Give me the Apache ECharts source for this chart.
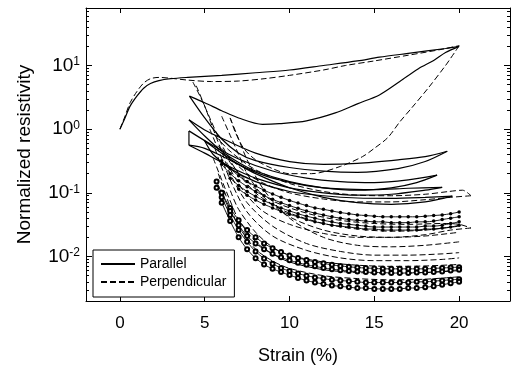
<!DOCTYPE html>
<html><head><meta charset="utf-8">
<script src="https://cdn.jsdelivr.net/npm/echarts@6/dist/echarts.min.js"></script>
<style>html,body{margin:0;padding:0;background:#fff}#c{width:513px;height:370px}</style>
</head><body><div id="c"></div><script>
// ---- tick labels ----
const xTicks = [0, 5, 10, 15, 20];
const yMajorTicks = [0.01, 0.1, 1, 10];
const yMinorTicks = [0.003,0.004,0.005,0.006,0.007,0.008,0.009,
  0.02,0.03,0.04,0.05,0.06,0.07,0.08,0.09,
  0.2,0.3,0.4,0.5,0.6,0.7,0.8,0.9,
  2,3,4,5,6,7,8,9,20,30,40,50,60,70];

// ---- parallel (solid) curves: [strain %, normalized resistivity] ----
const parLoad1 = [[0,1],[0.3,1.5],[0.6,2.3],[1,3.3],[1.4,4.4],[1.8,5.2],[2.3,5.8],[3,6.2],[4,6.5],[6,7.0],[8,7.7],[10,8.5],[12,10],[14,11.8],[15.3,13.5],[17,15.5],[19.2,18.5],[20,20]];
const parUnload1 = [[20,20],[19.2,16],[18.5,12],[17.6,8.9],[16.5,5.6],[15.3,3.45],[14,2.5],[12.7,1.8],[11,1.35],[9.4,1.22],[8.4,1.19],[7,1.5],[6,1.95],[5,2.6],[4.1,3.3]];
const parA_lo = [[4.1,3.3],[5,1.5],[6,0.7],[7,0.42],[8,0.32],[10,0.25],[12,0.22],[14,0.21],[16.4,0.24],[18,0.31],[19.3,0.45]];
const parA_up = [[19.3,0.45],[18,0.37],[16.4,0.33],[14,0.29],[12,0.28],[10,0.31],[8,0.42],[6,0.72],[5,0.97],[4.07,1.4]];
const parB_lo = [[4.07,1.4],[5,0.78],[6,0.45],[7,0.3],[8,0.22],[10,0.15],[12,0.12],[14,0.11],[16,0.12],[17.5,0.145],[18.7,0.19]];
const parB_up = [[18.7,0.19],[17,0.16],[15,0.145],[13,0.15],[11,0.17],[9,0.22],[7,0.34],[5.5,0.55],[4.07,0.94]];
const parC_edge = [[4.07,0.94],[4.07,0.56]];
const parC_lo = [[4.07,0.56],[5,0.42],[6,0.3],[7,0.22],[8,0.17],[10,0.12],[12,0.1],[14,0.092],[16,0.095],[18,0.11],[19,0.122]];
const parC_up = [[19,0.122],[17,0.118],[15,0.112],[13,0.115],[11,0.13],[9,0.17],[7.5,0.24],[6,0.38],[5,0.5],[4.07,0.56]];
const parD_lo = [[5,0.65],[6,0.42],[7,0.28],[8,0.2],[10,0.12],[12,0.085],[14,0.07],[16,0.066],[18,0.072],[19.6,0.089]];
const parD_up = [[19.6,0.089],[18,0.085],[16,0.082],[14,0.083],[12,0.09],[10,0.105],[8,0.15],[6.5,0.24],[5.5,0.4],[5,0.65]];

// ---- perpendicular (dashed) curves ----
const perLoad1 = [[0,1],[0.3,1.6],[0.6,2.6],[1,3.9],[1.4,5.3],[1.8,6.2],[2.3,6.5],[3,6.3],[4,5.9],[5.4,5.6],[7,5.7],[8.5,6.2],[10,7.0],[12,8.5],[13.3,10],[15,11.8],[17,14.5],[19,18],[20,20.5]];
const perUnload1 = [[20,20.5],[19.8,17],[19.5,13],[19.2,10],[18.2,4.5],[17.2,2.15],[16.5,1.3],[15.8,0.74],[15,0.5],[14.3,0.37],[13,0.26],[11.3,0.2],[10,0.2],[9,0.24],[8,0.33],[7.3,0.5],[6.8,0.9],[6.5,1.5]];
const perHi_up = [[5.6,0.8],[6.5,0.45],[8,0.23],[10,0.14],[12,0.105],[14,0.092],[16,0.09],[18,0.095],[19.4,0.105],[20.2,0.11],[20.7,0.09]];
const perHi_lo = [[20.7,0.09],[19.5,0.085],[18,0.078],[16,0.072],[14,0.072],[12,0.08],[10,0.1],[8.5,0.14],[7.5,0.2],[6.5,0.35],[6,0.5]];
const perLo_up = [[5.8,0.55],[6.5,0.3],[7.5,0.15],[9,0.075],[11,0.048],[13,0.037],[15,0.033],[17,0.032],[19,0.033],[20,0.032],[20.7,0.028]];
const perLo_lo = [[20.7,0.028],[19.5,0.026],[18,0.022],[16,0.02],[14,0.02],[12,0.023],[10,0.032],[8.5,0.05],[7.5,0.09],[6.8,0.17],[6.3,0.3]];
const perSteep1 = [[4.3,5.5],[4.8,3.0],[5.3,1.5],[5.8,0.75],[6.3,0.4],[7,0.2],[8,0.1],[9,0.065],[10,0.048],[12,0.033],[14,0.027],[16,0.025],[18,0.026],[20,0.03]];
const perMid1 = [[6.0,1.6],[6.5,0.8],[7,0.4],[7.5,0.2],[8.5,0.085],[10,0.042],[12,0.026],[14,0.021],[16,0.02],[18,0.021],[20,0.024]];
const perMid2 = [[6.5,1.5],[7,0.7],[7.5,0.33],[8.5,0.11],[10,0.04],[12,0.02],[14,0.015],[16,0.0142],[18,0.015],[20,0.017]];
const perMid3 = [[4.5,4.8],[5,2.3],[5.5,1.0],[6,0.45],[6.5,0.2],[7.5,0.07],[9,0.03],[11,0.016],[13,0.012],[15,0.0105],[17,0.0105],[19,0.011],[20,0.0115]];
const perMid4 = [[5.3,1.0],[6,0.35],[6.5,0.16],[7.5,0.05],[9,0.021],[11,0.0125],[13,0.0095],[15,0.0086],[17,0.0086],[19,0.009],[20,0.0095]];
const perLow1 = [[5.6,0.5],[6,0.25],[6.5,0.11],[7,0.055],[8,0.024],[9,0.014],[10,0.0105],[12,0.0082],[14,0.0073],[16,0.007],[18,0.0071],[20,0.0075]];
const perLow2 = [[5.5,0.35],[6,0.16],[6.5,0.075],[7,0.038],[8,0.017],[9,0.011],[10,0.0082],[12,0.0062],[14,0.0056],[16,0.0054],[18,0.0056],[20,0.006]];
const perLow3 = [[5.8,0.2],[6.5,0.06],[7,0.03],[8,0.013],[9,0.0085],[10,0.0065],[12,0.005],[14,0.0045],[16,0.0043],[18,0.0044],[20,0.0048]];

// ---- curves with filled markers ----
const filledX = [6,6.5,7,7.5,8,8.5,9,9.5,10,10.5,11,11.5,12,12.5,13,13.5,14,14.5,15,15.5,16,16.5,17,17.5,18,18.5,19,19.5,20];
const filled1 = [0.32,0.24,0.185,0.15,0.128,0.11,0.096,0.085,0.076,0.069,0.063,0.058,0.055,0.052,0.049,0.047,0.045,0.044,0.043,0.042,0.042,0.042,0.042,0.042,0.043,0.044,0.045,0.047,0.05];
const filled2 = [0.28,0.2,0.155,0.125,0.105,0.09,0.079,0.07,0.063,0.057,0.052,0.048,0.045,0.042,0.04,0.038,0.037,0.036,0.035,0.035,0.034,0.034,0.034,0.035,0.035,0.036,0.038,0.04,0.042];
const filled3 = [null,0.17,0.13,0.105,0.088,0.075,0.066,0.058,0.052,0.047,0.043,0.04,0.037,0.035,0.033,0.032,0.031,0.03,0.029,0.029,0.029,0.029,0.029,0.029,0.03,0.03,0.031,0.033,0.035];
const filled4 = [null,null,0.115,0.092,0.077,0.066,0.058,0.051,0.046,0.042,0.038,0.035,0.033,0.031,0.03,0.029,0.028,0.027,0.027,0.026,0.026,0.026,0.026,0.026,0.027,0.027,0.028,0.029,0.031];

// ---- curves with open markers ----
const openX = [5.7,6,6.5,7,7.5,8,8.5,9,9.5,10,10.5,11,11.5,12,12.5,13,13.5,14,14.5,15,15.5,16,16.5,17,17.5,18,18.5,19,19.5,20];
const open1 = [0.15,0.1,0.058,0.037,0.026,0.02,0.016,0.0135,0.0118,0.0104,0.0095,0.0088,0.0082,0.0078,0.0074,0.0071,0.0069,0.0067,0.0066,0.0065,0.0064,0.0064,0.0064,0.0064,0.0064,0.0064,0.0065,0.0066,0.0067,0.0068];
const open2 = [null,0.1,0.052,0.031,0.021,0.016,0.013,0.011,0.0097,0.0087,0.008,0.0074,0.007,0.0066,0.0063,0.0061,0.0059,0.0058,0.0057,0.0056,0.0056,0.0055,0.0055,0.0055,0.0056,0.0056,0.0057,0.0058,0.006,0.0062];
const open3 = [0.12,0.085,0.045,0.026,0.017,0.012,0.0093,0.0077,0.0066,0.0059,0.0054,0.005,0.0047,0.0045,0.0043,0.0042,0.0041,0.004,0.0039,0.0039,0.0039,0.0039,0.0039,0.0039,0.004,0.004,0.0041,0.0042,0.0043,0.0044];
const open4 = [null,0.07,0.036,0.02,0.013,0.0094,0.0075,0.0064,0.0057,0.0051,0.0046,0.0042,0.0039,0.0037,0.0035,0.0034,0.0033,0.0032,0.0032,0.0031,0.0031,0.0031,0.0031,0.0032,0.0032,0.0033,0.0034,0.0036,0.0038,0.004];

const FONT = 'Liberation Sans, Arial, sans-serif';
const solidLine = {color:'#000', width:1.2, type:'solid'};
const dashLine = {color:'#000', width:1, type:[6,3]};

function pairs(xs, ys){ const out=[]; xs.forEach((x,i)=>{ if(ys[i]!=null) out.push([x, ys[i]]); }); return out; }
function curve(name, data, style, smooth){
  return {type:'line', name, data, smooth: smooth===undefined?0.3:smooth, showSymbol:false, symbol:'none',
    lineStyle: style, itemStyle:{color:'#000'}, z:2};
}
function marked(name, data, sym, size, bw){
  return {type:'line', name, data, smooth:0.3, symbol:sym, symbolSize:size, showSymbol:true,
    lineStyle:{color:'#000', width:0.9}, itemStyle:{color:'#000', borderColor:'#000', borderWidth:bw}, z:3};
}

const series = [
  curve('Parallel', parLoad1, solidLine),
  curve('Perpendicular', perLoad1, dashLine),
  curve('Parallel', parUnload1, solidLine),
  curve('Parallel', parA_lo, solidLine),
  curve('Parallel', parA_up, solidLine),
  curve('Parallel', parB_lo, solidLine),
  curve('Parallel', parB_up, solidLine),
  curve('Parallel', parC_edge, solidLine, false),
  curve('Parallel', parC_lo, solidLine),
  curve('Parallel', parC_up, solidLine),
  curve('Parallel', parD_lo, solidLine),
  curve('Parallel', parD_up, solidLine),
  curve('Perpendicular', perUnload1, dashLine),
  curve('Perpendicular', perHi_up, dashLine),
  curve('Perpendicular', perHi_lo, dashLine),
  curve('Perpendicular', perLo_up, dashLine),
  curve('Perpendicular', perLo_lo, dashLine),
  curve('Perpendicular', perSteep1, dashLine),
  curve('Perpendicular', perMid1, dashLine),
  curve('Perpendicular', perMid2, dashLine),
  curve('Perpendicular', perMid3, dashLine),
  curve('Perpendicular', perMid4, dashLine),
  curve('Perpendicular', perLow1, dashLine),
  curve('Perpendicular', perLow2, dashLine),
  curve('Perpendicular', perLow3, dashLine),
  marked('fitA1', pairs(filledX, filled1), 'circle', 3.5, 0),
  marked('fitA2', pairs(filledX, filled2), 'circle', 3.5, 0),
  marked('fitA3', pairs(filledX, filled3), 'circle', 3.5, 0),
  marked('fitA4', pairs(filledX, filled4), 'circle', 3.5, 0),
  marked('fitB1', pairs(openX, open1), 'emptyCircle', 4, 0.8),
  marked('fitB2', pairs(openX, open2), 'emptyCircle', 4, 0.8),
  marked('fitB3', pairs(openX, open3), 'emptyCircle', 4, 0.8),
  marked('fitB4', pairs(openX, open4), 'emptyCircle', 4, 0.8)
];

const yMin = 0.002, yMax = 80;
function yAx(pos, showLabel, ticks, len, showLine){
  return {
    type:'log', logBase:10, min:yMin, max:yMax, position:pos,
    axisLine:{show:showLine, onZero:false, lineStyle:{color:'#000', width:1}},
    axisTick:{show:true, inside:true, length:len, customValues:ticks, lineStyle:{color:'#000', width:1}},
    axisLabel:{show:showLabel, customValues:ticks, margin:6, fontFamily:FONT, color:'#000',
      formatter: v => '{b|10}{s|' + Math.round(Math.log10(v)) + '}',
      rich:{ b:{fontSize:19, fontFamily:FONT, color:'#000'}, s:{fontSize:12, fontFamily:FONT, color:'#000', verticalAlign:'top'} }},
    splitLine:{show:false}, minorTick:{show:false},
    name: showLabel ? 'Normalized resistivity' : '', nameLocation:'middle', nameGap:52,
    nameTextStyle:{fontSize:19, fontFamily:FONT, color:'#000'}
  };
}
function xAx(pos, showLabel){
  return {
    type:'value', min:-2, max:23, position:pos,
    axisLine:{show:true, onZero:false, lineStyle:{color:'#000', width:1}},
    axisTick:{show:true, inside:true, length:5, customValues:xTicks, lineStyle:{color:'#000'}},
    axisLabel:{show:showLabel, customValues:xTicks, margin:14, fontSize:17, fontFamily:FONT, color:'#000'},
    splitLine:{show:false},
    name: showLabel ? 'Strain (%)' : '', nameLocation:'middle', nameGap:46,
    nameTextStyle:{fontSize:18, fontFamily:FONT, color:'#000'}
  };
}

const chart = echarts.init(document.getElementById('c'), null, {renderer:'canvas'});
chart.setOption({
  animation:false,
  backgroundColor:'#fff',
  grid:{left:86, right:3, top:8, bottom:63, containLabel:false},
  xAxis:[xAx('bottom', true), xAx('top', false)],
  yAxis:[yAx('left', true, yMajorTicks, 6, true), yAx('left', false, yMinorTicks, 3, false),
         yAx('right', false, yMajorTicks, 6, true), yAx('right', false, yMinorTicks, 3, false)],
  legend:{
    data:['Parallel','Perpendicular'], orient:'vertical', left:93, top:250,
    padding:[7,8,8,7], itemGap:4, itemWidth:34, itemHeight:14,
    borderColor:'#000', borderWidth:1, backgroundColor:'#fff',
    itemStyle:{opacity:0},
    textStyle:{fontSize:14, fontFamily:FONT, color:'#000'}
  },
  series: series.map(s => Object.assign(s, {xAxisIndex:0, yAxisIndex:0}))
});
</script></body></html>
